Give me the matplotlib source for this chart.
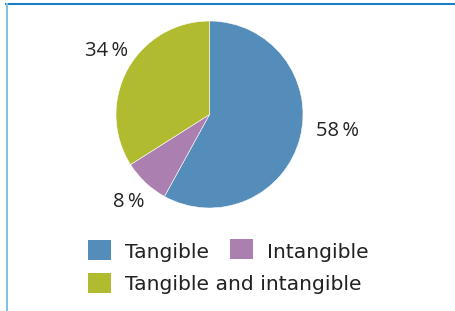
import matplotlib.pyplot as plt
from matplotlib.patches import Rectangle
from matplotlib.lines import Line2D

# data
categories = ["Tangible", "Intangible", "Tangible and intangible"]
shares = [58, 8, 34]
colors = ["#548cba", "#ab7fb0", "#b0bb30"]

# where each percentage label sits, in pie radius units
label_pos = [(1.364, -0.176), (-0.861, -0.941), (-1.096, 0.674)]

plt.rcParams['font.family'] = ['Open Sans', 'DejaVu Sans']
text_color = "#222222"

W, H = 455, 311
fig = plt.figure(figsize=(W / 100, H / 100), dpi=100)

# frame lines (top darker, left lighter)
fig.add_artist(Line2D([6 / W, 1], [1 - 4 / H, 1 - 4 / H], color="#1a7fc0", lw=1.5))
fig.add_artist(Line2D([7 / W, 7 / W], [0, 1 - 4 / H], color="#85c0e0", lw=1.5))

# pie centre ~ (209.5, 114.5) px, radius ~93.5 px
cx, cy, r = 209.5, 114.5, 93.5
ax = fig.add_axes([(cx - r) / W, 1 - (cy + r) / H, 2 * r / W, 2 * r / H])
ax.pie(shares, colors=colors, startangle=90, counterclock=False, radius=1,
       wedgeprops=dict(edgecolor="white", linewidth=0.4))
ax.set_xlim(-1, 1)
ax.set_ylim(-1, 1)
ax.set_aspect('auto')
ax.axis('off')

for val, (x, y) in zip(shares, label_pos):
    ax.text(x, y, f"{val}\u2009%", ha='center', va='center', fontsize=14.5,
            color=text_color, clip_on=False)

# legend drawn by hand to match layout: square x, square y, text x, baseline (px)
rows = [(88, 240, 125, 258), (230, 239, 267, 258), (88, 273, 125, 290)]
for (sx, sy, tx, ty), name, col in zip(rows, categories, colors):
    fig.add_artist(Rectangle((sx / W, 1 - (sy + 20) / H), 23 / W, 20 / H,
                             facecolor=col, edgecolor='none'))
    fig.text(tx / W, 1 - ty / H, name, ha='left', va='baseline',
             fontsize=14.6, color=text_color, family='DejaVu Sans')

fig.savefig("out.png", dpi=100)
